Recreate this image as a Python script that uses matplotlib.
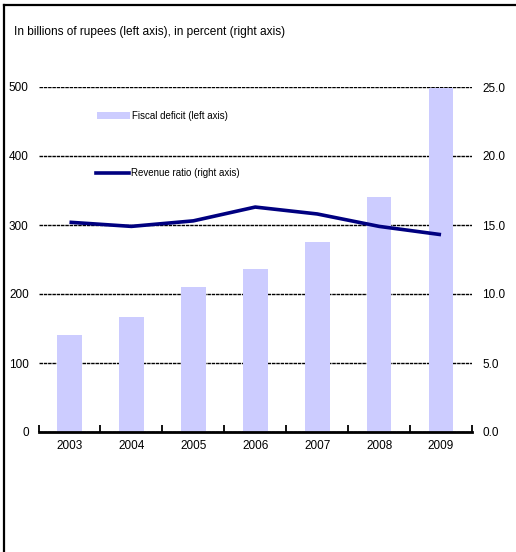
import numpy as np
import matplotlib.pyplot as plt
from matplotlib.patches import Patch
from matplotlib.lines import Line2D

plt.rcParams['font.family'] = ['Liberation Sans', 'DejaVu Sans']

years = ['2003', '2004', '2005', '2006', '2007', '2008', '2009']
fiscal_deficit = [141, 166, 210, 236, 276, 341, 498]      # billions of rupees
revenue_ratio = [15.2, 14.9, 15.3, 16.3, 15.8, 14.9, 14.3]  # percent

fig = plt.figure(figsize=(5.16, 5.52), dpi=100)
ax = fig.add_axes([38.5 / 516, 1 - 432 / 552, (472 - 38.5) / 516, 345 / 552])
ax2 = ax.twinx()

x = np.arange(len(years))
ax.bar(x, fiscal_deficit, width=0.4, color='#CCCCFF', zorder=2)
ax2.plot(x, revenue_ratio, color='#000080', lw=2.6, solid_capstyle='butt', zorder=3)

ax.set_xlim(-0.5, len(years) - 0.5)
ax.set_ylim(0, 500)
ax2.set_ylim(0, 25)
ax.set_yticks(np.arange(0, 501, 100))
ax2.set_yticks(np.arange(0, 25.1, 5))
ax2.set_yticklabels([f'{v:.1f}' for v in np.arange(0, 25.1, 5)])

# category boundaries get the tick marks, labels sit in the middle
ax.set_xticks(np.arange(-0.5, len(years), 1))
ax.set_xticklabels([])
ax.set_xticks(x, minor=True)
ax.set_xticklabels(years, minor=True)
ax.tick_params(axis='x', which='major', direction='in', length=5, width=1.3, color='black')
ax.tick_params(axis='x', which='minor', length=0, pad=6, labelsize=8.5)
ax.tick_params(axis='y', length=0, pad=7, labelsize=8.5)
ax2.tick_params(axis='y', length=0, pad=7.5, labelsize=8.5)

ax.yaxis.grid(True, color='black', linestyle=(0, (2.5, 0.6)), linewidth=1)
ax.set_axisbelow(True)

for a in (ax, ax2):
    for side in ('left', 'right', 'top', 'bottom'):
        a.spines[side].set_visible(False)
ax.spines['bottom'].set_visible(True)
ax.spines['bottom'].set_linewidth(2)
ax.spines['bottom'].set_zorder(5)

fig.text(14 / 516, 1 - 32 / 552, 'In billions of rupees (left axis), in percent (right axis)',
         fontsize=8.6, va='center', ha='left')

leg1 = ax.legend(handles=[Patch(facecolor='#CCCCFF', edgecolor='none')],
                 labels=['Fiscal deficit (left axis)'],
                 loc='center left', bbox_to_anchor=(97 / 516, 1 - 116 / 552),
                 bbox_transform=fig.transFigure,
                 frameon=False, fontsize=7, handlelength=3.4, handleheight=0.6,
                 handletextpad=0.2, borderpad=0, borderaxespad=0)
leg2 = ax2.legend(handles=[Line2D([], [], color='#000080', lw=2.6)],
                  labels=['Revenue ratio (right axis)'],
                  loc='center left', bbox_to_anchor=(96 / 516, 1 - 173 / 552),
                  bbox_transform=fig.transFigure,
                  frameon=False, fontsize=7, handlelength=3.4,
                  handletextpad=0.2, borderpad=0, borderaxespad=0)

# frame on the top and left edges
fig.add_artist(Line2D([3.5 / 516, 1], [1 - 4.5 / 552] * 2, color='black', lw=1.6,
                      transform=fig.transFigure))
fig.add_artist(Line2D([3.5 / 516] * 2, [0, 1 - 4.5 / 552], color='black', lw=1.6,
                      transform=fig.transFigure))

fig.savefig('out.png', dpi=100)
